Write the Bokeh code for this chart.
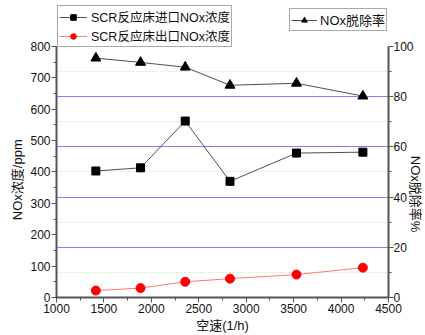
from bokeh.plotting import figure
from bokeh.models import (Range1d, LinearAxis, SingleIntervalTicker, FixedTicker,
                          Grid, Legend, LegendItem)
from bokeh.embed import file_html
from bokeh.resources import INLINE

# ---- data ----
space_velocity = [1415, 1886, 2357, 2829, 3530, 4230]
inlet_nox = [403, 413, 562, 370, 460, 463]
outlet_nox = [22, 30, 50, 60, 73, 95]
removal_rate = [95.3, 93.6, 91.7, 84.5, 85.3, 80.2]

x_min, x_max = 1000, 4500
left_min, left_max = 0, 800
right_min, right_max = 0, 100
x_ticks_interval = 500
left_tick_interval = 100
right_tick_interval = 20
major_grid_vals = [160, 320, 480, 640]
minor_grid_vals = [80, 240, 400, 560, 720]

inlet_label = "SCR反应床进口NOx浓度"
outlet_label = "SCR反应床出口NOx浓度"
rate_label = "NOx脱除率"
x_label = "空速(1/h)"
y_label = "NOx浓度/ppm"
y2_label = "NOx脱除率%"

FONT = "'Liberation Sans', 'Noto Sans CJK SC'"
NB = "\u00a0"

# layout (px)
W, H = 425, 335
LEFT, RIGHT, BOTTOM = 56, 31, 37
AXIS_TOP_PX = 46          # where 800 / 100 sit
frame_h = H - BOTTOM
axis_h = frame_h - AXIS_TOP_PX
y_top = left_max * frame_h / axis_h
y2_top = right_max * frame_h / axis_h

p = figure(width=W, height=H, output_backend="svg", toolbar_location=None,
           x_range=Range1d(x_min, x_max), y_range=Range1d(left_min, y_top),
           min_border_left=LEFT, min_border_right=RIGHT, min_border_top=0,
           min_border_bottom=BOTTOM)
p.outline_line_color = None
p.xgrid.visible = False
p.ygrid.visible = False
p.extra_y_ranges = {"rate": Range1d(right_min, y2_top)}

# grids
g2 = Grid(dimension=1, ticker=FixedTicker(ticks=minor_grid_vals),
          grid_line_color="#c8eec8", grid_line_width=1, grid_line_dash="2 2")
g1 = Grid(dimension=1, ticker=FixedTicker(ticks=major_grid_vals),
          grid_line_color="#8080ff", grid_line_width=1)
p.add_layout(g2)
p.add_layout(g1)

def style_axis(ax):
    ax.axis_line_color = "#555555"
    ax.axis_line_width = 2
    ax.major_tick_line_color = "#555555"
    ax.minor_tick_line_color = "#555555"
    ax.major_tick_in = 0
    ax.major_tick_out = 5
    ax.minor_tick_in = 0
    ax.minor_tick_out = 3
    ax.major_label_text_font = FONT
    ax.major_label_text_font_size = "12px"
    ax.major_label_text_color = "#111111"
    ax.axis_label_text_font = FONT
    ax.axis_label_text_font_size = "13px"
    ax.axis_label_text_font_style = "normal"
    ax.axis_label_text_color = "#111111"
    ax.major_label_standoff = 1

xa = p.xaxis[0]
ya = p.yaxis[0]
xa.ticker = SingleIntervalTicker(interval=x_ticks_interval, num_minor_ticks=2)
ya.ticker = SingleIntervalTicker(interval=left_tick_interval, num_minor_ticks=2)
style_axis(xa)
style_axis(ya)
ya.bounds = (left_min, left_max)
xa.axis_label = x_label
xa.major_label_standoff = 1
xa.axis_label_standoff = 2
ya.axis_label = y_label + NB * 17
ya.axis_label_standoff = 2

right = LinearAxis(y_range_name="rate", bounds=(right_min, right_max),
                   ticker=SingleIntervalTicker(interval=right_tick_interval, num_minor_ticks=2))
style_axis(right)
right.major_label_standoff = 0
right.axis_label = NB * 25 + y2_label
right.axis_label_standoff = -9
p.add_layout(right, "right")

# series
l1 = p.line(space_velocity, inlet_nox, line_color="#505050", line_width=1)
s1 = p.scatter(space_velocity, inlet_nox, marker="square", size=8,
               fill_color="black", line_color="black")
l2 = p.line(space_velocity, outlet_nox, line_color="#ff7777", line_width=1)
s2 = p.scatter(space_velocity, outlet_nox, marker="circle", size=9,
               fill_color="red", line_color="red")
l3 = p.line(space_velocity, removal_rate, line_color="#505050", line_width=1,
            y_range_name="rate")
s3 = p.scatter(space_velocity, removal_rate, marker="triangle", size=10,
               fill_color="black", line_color="black", y_range_name="rate")

def style_legend(lg, size):
    lg.label_text_font = FONT
    lg.label_text_font_size = size
    lg.label_text_color = "#111111"
    lg.border_line_color = "#555555"
    lg.border_line_width = 1
    lg.background_fill_color = "white"
    lg.background_fill_alpha = 1
    lg.padding = 1
    lg.margin = 0
    lg.spacing = 0
    lg.label_standoff = 4
    lg.glyph_width = 28
    lg.glyph_height = 14
    lg.label_height = 14

leg1 = Legend(items=[LegendItem(label=inlet_label, renderers=[l1, s1]),
                     LegendItem(label=outlet_label, renderers=[l2, s2])],
              location=(1, 250))
style_legend(leg1, "12.5px")
leg2 = Legend(items=[LegendItem(label=rate_label, renderers=[l3, s3])],
              location=(233, 266))
style_legend(leg2, "13px")
leg2.glyph_width = 26
leg2.label_standoff = 3
p.add_layout(leg1, "center")
p.add_layout(leg2, "center")

open("out.html", "w").write(file_html(p, INLINE))
